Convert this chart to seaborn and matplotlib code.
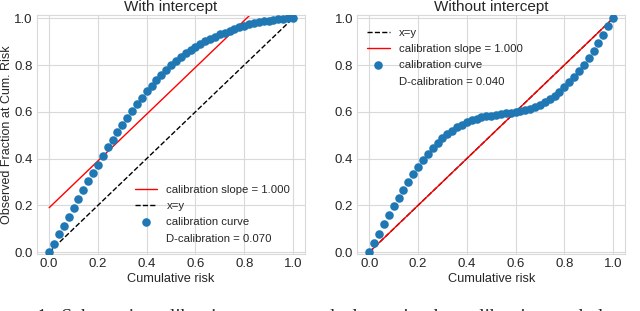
import numpy as np
import matplotlib
matplotlib.use('Agg')
import matplotlib.pyplot as plt
from matplotlib.lines import Line2D
import seaborn as sns

# cumulative risk grid (x positions of the calibration curve points)
risk = [0.00, 0.02, 0.04, 0.06, 0.08, 0.10, 0.12, 0.14, 0.16, 0.18,
        0.20, 0.22, 0.24, 0.26, 0.28, 0.30, 0.32, 0.34, 0.36, 0.38,
        0.40, 0.42, 0.44, 0.46, 0.48, 0.50, 0.52, 0.54, 0.56, 0.58,
        0.60, 0.62, 0.64, 0.66, 0.68, 0.70, 0.72, 0.74, 0.76, 0.78,
        0.80, 0.82, 0.84, 0.86, 0.88, 0.90, 0.92, 0.94, 0.96, 0.98, 1.00]

# observed fraction, "with intercept" panel
obs_with = [0.000, 0.036, 0.076, 0.113, 0.151, 0.190, 0.227, 0.264, 0.303, 0.339,
            0.374, 0.411, 0.448, 0.479, 0.512, 0.543, 0.573, 0.603, 0.633, 0.658,
            0.687, 0.711, 0.735, 0.757, 0.779, 0.800, 0.819, 0.836, 0.851, 0.866,
            0.879, 0.891, 0.902, 0.912, 0.922, 0.931, 0.939, 0.947, 0.955, 0.962,
            0.968, 0.974, 0.979, 0.983, 0.987, 0.990, 0.993, 0.995, 0.997, 0.999, 1.000]

# observed fraction, "without intercept" panel
obs_without = [0.000, 0.039, 0.079, 0.119, 0.157, 0.196, 0.231, 0.267, 0.300, 0.333,
               0.363, 0.393, 0.419, 0.444, 0.467, 0.486, 0.503, 0.519, 0.533, 0.545,
               0.555, 0.563, 0.570, 0.576, 0.580, 0.584, 0.587, 0.590, 0.593, 0.596,
               0.600, 0.604, 0.608, 0.613, 0.620, 0.629, 0.640, 0.654, 0.669, 0.686,
               0.705, 0.726, 0.749, 0.774, 0.801, 0.829, 0.860, 0.894, 0.929, 0.965, 1.000]

line_x = [0.0, 1.0]
identity_y = [0.0, 1.0]
slope_with_y = [0.19, 1.19]      # slope 1.000, intercept 0.19
slope_without_y = [0.0, 1.0]     # slope 1.000, no intercept

d_cal_with = 0.070
d_cal_without = 0.040

sns.set_style('whitegrid')
plt.rcParams['font.family'] = ['Liberation Sans', 'DejaVu Sans']

fig = plt.figure(figsize=(6.4, 3.11), dpi=100)
ax1 = fig.add_axes([0.0578, 0.1833, 0.419, 0.7685])
ax2 = fig.add_axes([0.558, 0.1833, 0.419, 0.7685])

blue = '#1f77b4'
leg_kw = dict(frameon=False, fontsize=8.2, handlelength=2.0, handletextpad=0.8,
              labelspacing=0.55, borderaxespad=0)

# left panel
sns.lineplot(x=line_x, y=slope_with_y, color='red', lw=1, ax=ax1,
             label='calibration slope = 1.000')
sns.lineplot(x=line_x, y=identity_y, color='black', lw=1, ls='--', ax=ax1, label='x=y')
sns.scatterplot(x=risk, y=obs_with, color=blue, s=38, linewidth=0, ax=ax1,
                label='calibration curve', zorder=3)
h, l = ax1.get_legend_handles_labels()
h.append(Line2D([], [], linestyle='none'))
l.append('D-calibration = %.3f' % d_cal_with)
ax1.legend(h, l, loc='lower right', bbox_to_anchor=(0.9616, 0.0238), **leg_kw)
ax1.set_title('With intercept', fontsize=11, pad=3)
ax1.set_ylabel('Observed Fraction at Cum. Risk', fontsize=9, labelpad=1)

# right panel
sns.lineplot(x=line_x, y=identity_y, color='black', lw=1, ls='--', ax=ax2, label='x=y')
sns.lineplot(x=line_x, y=slope_without_y, color='red', lw=1, ax=ax2,
             label='calibration slope = 1.000')
sns.scatterplot(x=risk, y=obs_without, color=blue, s=38, linewidth=0, ax=ax2,
                label='calibration curve', zorder=3)
h, l = ax2.get_legend_handles_labels()
h.append(Line2D([], [], linestyle='none'))
l.append('D-calibration = %.3f' % d_cal_without)
ax2.legend(h, l, loc='upper left', bbox_to_anchor=(0.02, 0.9657), **leg_kw)
ax2.set_title('Without intercept', fontsize=11, pad=3)

for ax in (ax1, ax2):
    ax.set_xlim(-0.05, 1.05)
    ax.set_ylim(-0.008, 1.014)
    ax.set_xticks([0.0, 0.2, 0.4, 0.6, 0.8, 1.0])
    ax.set_yticks([0.0, 0.2, 0.4, 0.6, 0.8, 1.0])
    ax.set_xlabel('Cumulative risk', fontsize=9.2, labelpad=2)
    ax.tick_params(labelsize=9.5, length=0, pad=3)
    ax.grid(color='#d9d9d9', lw=0.8)
    for s in ax.spines.values():
        s.set_color('#d9d9d9')

# caption of the paper, cut by the image border
fig.text(0.5, 0.008, '1.  Schematic  calibration  curves  and  slopes  in  the  calibration  and  d',
         family=['Liberation Serif', 'DejaVu Serif'], fontsize=14, ha='center', va='top')

fig.savefig('out.png', dpi=100)
